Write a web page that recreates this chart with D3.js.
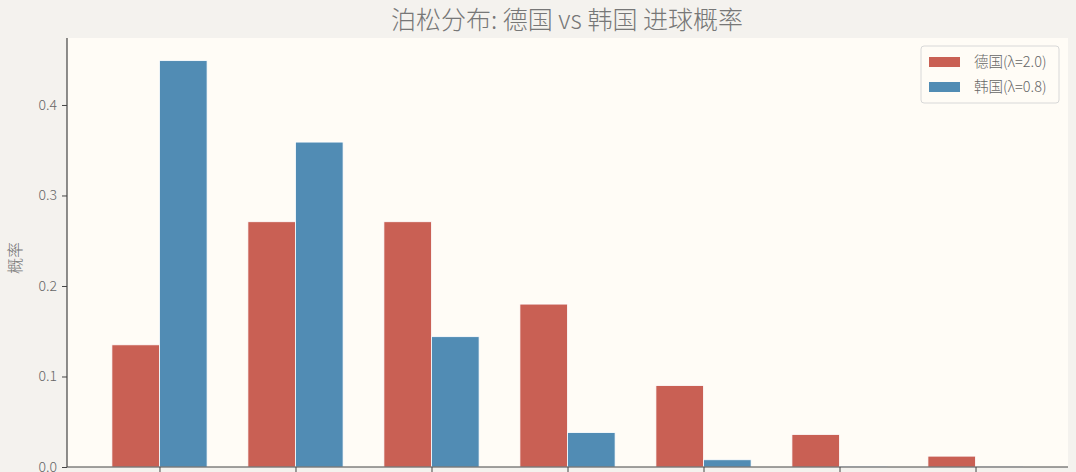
<!DOCTYPE html>
<html>
<head>
<meta charset="utf-8">
<script src="https://cdn.jsdelivr.net/npm/d3@7.9.0/dist/d3.min.js"></script>
<style>
  html, body { margin: 0; padding: 0; background: #f4f2ee; }
  svg { display: block; font-family: "Noto Sans CJK SC", "Noto Sans", sans-serif; }
</style>
</head>
<body>
<svg id="chart" width="1076" height="472"></svg>
<script>
// goals 0..6
const goals = [0, 1, 2, 3, 4, 5, 6];
const germany = [0.135, 0.271, 0.271, 0.180, 0.090, 0.036, 0.012];
const korea = [0.449, 0.359, 0.144, 0.038, 0.008, 0.001, 0.0002];
const seriesNames = ['德国(λ=2.0)', '韩国(λ=0.8)'];
const seriesColors = ['#c96054', '#518cb4'];
const yTicks = [0.0, 0.1, 0.2, 0.3, 0.4];

const svg = d3.select('#chart');
const plotL = 67, plotR = 1068, plotT = 38, plotB = 467;

// plot background
svg.append('rect')
    .attr('x', plotL).attr('y', plotT)
    .attr('width', plotR - plotL).attr('height', plotB - plotT)
    .attr('fill', '#fffcf6');

const x = d3.scaleLinear().domain([-0.68, 6.68]).range([plotL, plotR]);
const y = d3.scaleLinear().domain([0, 0.474]).range([plotB, plotT]);
const barW = 0.35;

// bars
[germany, korea].forEach((vals, s) => {
    svg.append('g').selectAll('rect')
        .data(vals)
        .join('rect')
        .attr('x', (d, i) => x(goals[i] + (s === 0 ? -barW : 0)))
        .attr('width', x(barW) - x(0))
        .attr('y', d => y(d))
        .attr('height', d => y(0) - y(d))
        .attr('fill', seriesColors[s])
        .attr('stroke', '#ffffff')
        .attr('stroke-width', 0.8);
});

// y axis
const yAxis = svg.append('g')
    .attr('transform', `translate(${plotL},0)`)
    .call(d3.axisLeft(y).tickValues(yTicks).tickFormat(d3.format('.1f')).tickSize(5).tickPadding(5));
yAxis.select('.domain').attr('stroke', '#444').attr('stroke-width', 1.2).attr('d', `M0,${plotT}V${plotB}`);
yAxis.selectAll('.tick line').attr('stroke', '#444');
yAxis.selectAll('.tick text')
    .attr('fill', '#666')
    .attr('font-size', 14)
    .attr('font-weight', 300)
    .attr('font-family', '"Noto Sans CJK SC", sans-serif');

// x axis (labels fall below the picture, only ticks show)
const xAxis = svg.append('g')
    .attr('transform', `translate(0,${plotB})`)
    .call(d3.axisBottom(x).tickValues(goals).tickFormat('').tickSize(5));
xAxis.select('.domain').attr('stroke', '#444').attr('stroke-width', 1.2).attr('d', `M${plotL},0H${plotR}`);
xAxis.selectAll('.tick line').attr('stroke', '#444');

// title
svg.append('text')
    .attr('x', 567).attr('y', 29)
    .attr('text-anchor', 'middle')
    .attr('font-size', 25)
    .attr('font-weight', 300)
    .attr('fill', '#777')
    .text('泊松分布: 德国 vs 韩国 进球概率');

// y label
svg.append('text')
    .attr('transform', 'translate(21,258) rotate(-90)')
    .attr('text-anchor', 'middle')
    .attr('font-size', 16)
    .attr('font-weight', 300)
    .attr('fill', '#777')
    .text('概率');

// legend
const lg = svg.append('g').attr('transform', 'translate(921,46)');
lg.append('rect')
    .attr('width', 138).attr('height', 57).attr('rx', 3)
    .attr('fill', '#fffcf6').attr('stroke', '#d8d8d8');
seriesNames.forEach((name, i) => {
    lg.append('rect')
        .attr('x', 8).attr('y', 11 + i * 25)
        .attr('width', 31).attr('height', 10)
        .attr('fill', seriesColors[i]);
    lg.append('text')
        .attr('x', 53).attr('y', 21 + i * 25)
        .attr('font-size', 14.5)
        .attr('font-weight', 300)
        .attr('fill', '#666')
        .text(name);
});
</script>
</body>
</html>
